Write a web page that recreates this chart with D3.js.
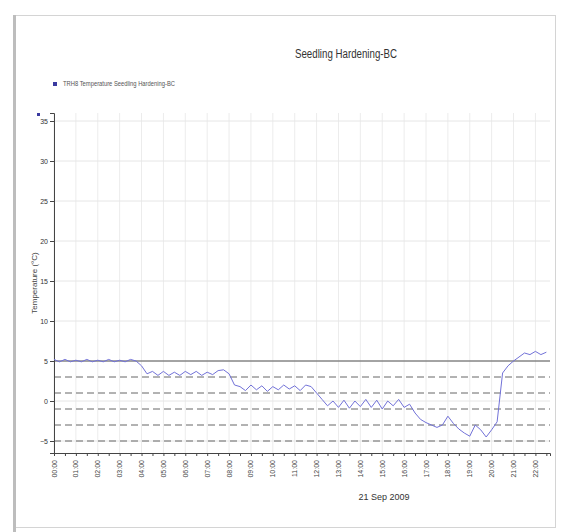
<!DOCTYPE html>
<html>
<head>
<meta charset="utf-8">
<script src="https://cdn.jsdelivr.net/npm/d3@7"></script>
<style>
  body { margin: 0; background: #fff; }
  svg { display: block; font-family: "Liberation Sans", Arial, sans-serif; }
</style>
</head>
<body>
<div id="chart"></div>
<script>
// 图表数据
const chartTitle = "Seedling Hardening-BC";
const seriesName = "TRH8 Temperature Seedling Hardening-BC";
const dateLabel = "21 Sep 2009";
const startTime = new Date(2009, 8, 21, 0, 0);
const endTime = new Date(2009, 8, 21, 22, 40);
const stepMinutes = 15;
// 每 15 分钟一个温度读数 (°C)
const tempValues = [
  5.2, 4.9, 5.2, 4.9, 5.1, 4.9, 5.2, 4.9, 5.1, 4.9, 5.2, 4.9, 5.1, 4.9, 5.2, 5.0,
  4.4,
  3.4, 3.7, 3.2, 3.7, 3.2, 3.6, 3.2, 3.7, 3.3, 3.7, 3.2, 3.6, 3.3, 3.8, 3.9, 3.4,
  2.0,
  1.8, 1.3, 2.0, 1.4, 1.9, 1.2, 1.8, 1.4, 2.0, 1.5, 1.9, 1.3, 2.0, 1.8,
  1.0, 0.2, -0.6, 0.0, -0.8, 0.1, -0.9, 0.0, -0.7, 0.2, -0.8, 0.1, -1.0, 0.0, -0.6, 0.2, -0.8, -0.4,
  -1.5, -2.3, -2.7, -3.0, -3.3, -3.0, -1.9, -2.8, -3.5, -4.0, -4.4, -3.0, -3.6, -4.5, -3.6, -2.6,
  3.5, 4.4, 5.0, 5.5, 6.0, 5.8, 6.2, 5.8, 6.1
];
const yTicks = [-5, 0, 5, 10, 15, 20, 25, 30, 35];
const yDomain = [-6.5, 36];
const limitLines = [5, 3, 1, -1, -3, -5];

const data = tempValues.map((v, i) => ({
  t: new Date(startTime.getTime() + i * stepMinutes * 60000),
  v: v
}));

const width = 566, height = 532;
const svg = d3.select("#chart").append("svg")
  .attr("width", width).attr("height", height);

// 外框
svg.append("rect")
  .attr("x", 14.5).attr("y", 15.5).attr("width", 541).attr("height", 512)
  .attr("fill", "#fff").attr("stroke", "#d4d4d4");
svg.append("rect")
  .attr("x", 13).attr("y", 15).attr("width", 3).attr("height", 517)
  .attr("fill", "#bdbdbd");

// 比例尺
const x = d3.scaleTime().domain([startTime, endTime]).range([54, 550]);
const y = d3.scaleLinear().domain(yDomain).range([453, 113]);

// 网格线
const xTicks = d3.timeHour.every(1).range(startTime, endTime);
svg.append("g").selectAll("line").data(xTicks).join("line")
  .attr("x1", d => x(d)).attr("x2", d => x(d))
  .attr("y1", y.range()[1]).attr("y2", y.range()[0])
  .attr("stroke", "#ececec");
svg.append("g").selectAll("line").data(yTicks).join("line")
  .attr("x1", x.range()[0]).attr("x2", x.range()[1])
  .attr("y1", d => y(d)).attr("y2", d => y(d))
  .attr("stroke", "#e6e6e6");

// 阈值虚线
svg.append("g").selectAll("line").data(limitLines).join("line")
  .attr("x1", x.range()[0]).attr("x2", x.range()[1])
  .attr("y1", d => y(d)).attr("y2", d => y(d))
  .attr("stroke", (d, i) => i === 0 ? "#555" : "#666")
  .attr("stroke-dasharray", (d, i) => i === 0 ? null : "7,4");

// Y 轴
const yAxis = svg.append("g")
  .attr("transform", `translate(${x.range()[0]},0)`)
  .call(d3.axisLeft(y).tickValues(yTicks).tickSize(4).tickPadding(2));
yAxis.select(".domain").attr("stroke", "#444");
yAxis.selectAll(".tick line").attr("stroke", "#444");
yAxis.selectAll("text").attr("font-size", 7).attr("fill", "#333");

// X 轴
const xAxis = svg.append("g")
  .attr("transform", `translate(0,${y.range()[0]})`)
  .call(d3.axisBottom(x).ticks(d3.timeMinute.every(30)).tickSize(3).tickFormat(""));
xAxis.select(".domain").attr("stroke", "#444");
xAxis.selectAll(".tick line").attr("stroke", "#444");

svg.append("g").selectAll("text").data(xTicks).join("text")
  .attr("transform", d => `translate(${x(d) + 2.5},460) rotate(-90)`)
  .attr("text-anchor", "end")
  .attr("font-size", 7)
  .attr("fill", "#444")
  .text(d3.timeFormat("%H:%M"));

svg.append("text")
  .attr("x", 384).attr("y", 500)
  .attr("text-anchor", "middle")
  .attr("font-size", 9).attr("fill", "#333")
  .text(dateLabel);

// 温度曲线
const line = d3.line().x(d => x(d.t)).y(d => y(d.v));
svg.append("path")
  .datum(data)
  .attr("fill", "none")
  .attr("stroke", "#7272d8")
  .attr("stroke-width", 1)
  .attr("d", line);

// 标题
svg.append("text")
  .attr("x", 346).attr("y", 58)
  .attr("text-anchor", "middle")
  .attr("font-size", 12).attr("fill", "#333")
  .attr("textLength", 102).attr("lengthAdjust", "spacingAndGlyphs")
  .text(chartTitle);

// 图例
svg.append("rect")
  .attr("x", 53).attr("y", 82).attr("width", 4).attr("height", 4)
  .attr("fill", "#3a3aa0");
svg.append("text")
  .attr("x", 63).attr("y", 86)
  .attr("font-size", 7).attr("fill", "#555")
  .attr("textLength", 112).attr("lengthAdjust", "spacingAndGlyphs")
  .text(seriesName);

// Y 轴标题
svg.append("text")
  .attr("transform", "translate(37,283) rotate(-90)")
  .attr("text-anchor", "middle")
  .attr("font-size", 8).attr("fill", "#444")
  .text("Temperature (°C)");

// 左上角小标记
svg.append("rect")
  .attr("x", 37).attr("y", 113).attr("width", 3).attr("height", 3)
  .attr("fill", "#3a3aa0");
</script>
</body>
</html>
